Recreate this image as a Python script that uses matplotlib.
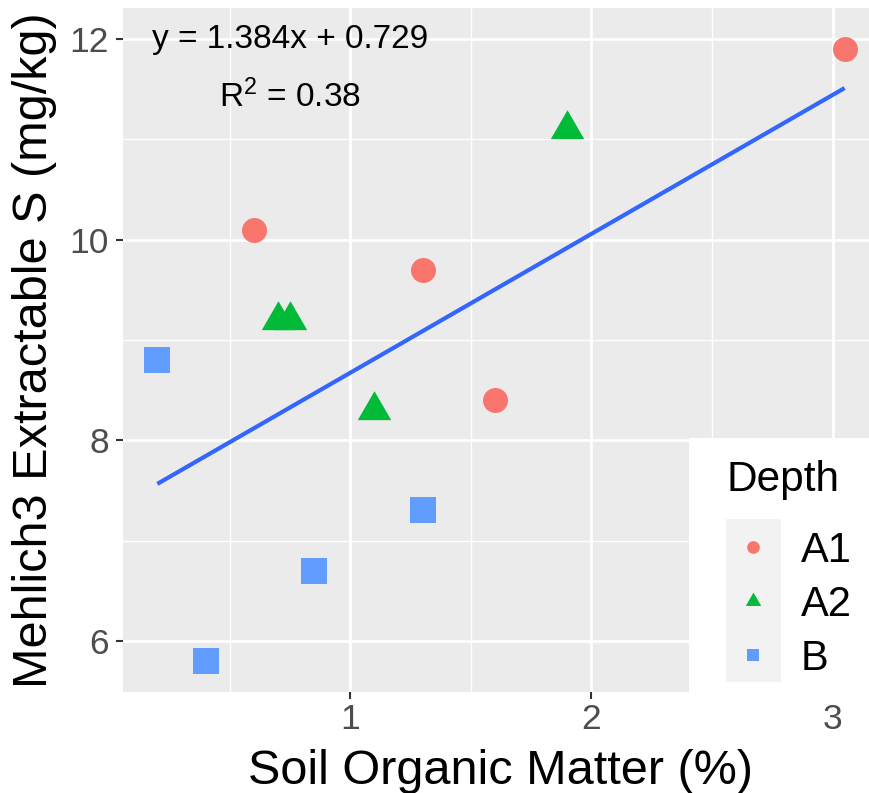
import numpy as np
import matplotlib
matplotlib.use('Agg')
import matplotlib.pyplot as plt
from matplotlib.path import Path
from matplotlib.patches import Rectangle

plt.rcParams['font.family'] = ['Liberation Sans', 'DejaVu Sans']
plt.rcParams['mathtext.fontset'] = 'custom'
plt.rcParams['mathtext.rm'] = 'Liberation Sans'
plt.rcParams['mathtext.it'] = 'Liberation Sans:italic'

# data
depths = ['A1', 'A2', 'B']
som_a1 = [0.6, 1.3, 1.6, 3.05]
s_a1 = [10.1, 9.7, 8.4, 11.9]
som_a2 = [0.7, 0.75, 1.1, 1.9]
s_a2 = [9.2, 9.2, 8.3, 11.1]
som_b = [0.2, 0.4, 0.85, 1.3]
s_b = [8.8, 5.8, 6.7, 7.3]
eq_label = 'y = 1.384x + 0.729'
r2_label = 'R$^2$ = 0.38'

colors = ['#F8766D', '#00BA38', '#619CFF']
# R style filled triangle (pch 17), centred like R does it
tri = Path([(0, 1), (0.866, -0.5), (-0.866, -0.5), (0, 1)],
           [Path.MOVETO, Path.LINETO, Path.LINETO, Path.CLOSEPOLY])
markers = ['o', tri, 's']
sizes = [18, 27.8, 18.7]
key_sizes = [9.1, 12.8, 9.1]

W, H = 870, 793
fig = plt.figure(figsize=(W / 100, H / 100), dpi=100)

def box(x0, y0, x1, y1):
    # pixel box (from top left) -> figure rect
    return [x0 / W, 1 - y1 / H, (x1 - x0) / W, (y1 - y0) / H]

ax = fig.add_axes(box(123, 8, 879, 692))
ax.set_facecolor('#EBEBEB')
for sp in ax.spines.values():
    sp.set_visible(False)

xs = [som_a1, som_a2, som_b]
ys = [s_a1, s_a2, s_b]
for x, y, c, m, ms in zip(xs, ys, colors, markers, sizes):
    ax.plot(x, y, ls='none', marker=m, ms=ms, color=c, mew=0, zorder=3)

# linear fit over all points
allx = np.concatenate(xs)
ally = np.concatenate(ys)
slope, icpt = np.polyfit(allx, ally, 1)
fx = np.array([allx.min(), allx.max()])
ax.plot(fx, slope * fx + icpt, color='#3366FF', lw=3, zorder=4,
        solid_capstyle='butt')

ax.text(0.75, 11.91, eq_label, ha='center', va='baseline', size=24)
ax.text(0.75, 11.32, r2_label, ha='center', va='baseline', size=24)

ax.set_xlim(0.0575, 3.1925)
ax.set_ylim(5.49, 12.31)
ax.set_xticks([1, 2, 3])
ax.set_yticks([6, 8, 10, 12])
ax.set_xticks([0.5, 1.5, 2.5], minor=True)
ax.set_yticks([7, 9, 11], minor=True)
ax.grid(which='major', color='white', lw=2.0)
ax.grid(which='minor', color='white', lw=1.0)
ax.set_axisbelow(True)
ax.tick_params(which='major', length=5, width=1.5, color='#333333',
               labelsize=25.5, labelcolor='#4D4D4D')
ax.tick_params(axis='x', pad=3)
ax.tick_params(axis='y', pad=5)
ax.tick_params(which='minor', length=0)
ax.set_xlabel('Soil Organic Matter (%)', size=35, labelpad=9)
ax.set_ylabel('Mehlich3 Extractable S (mg/kg)', size=35, labelpad=9)

# legend, drawn ggplot style in pixel coordinates
lg = fig.add_axes(box(689, 438, 880, 700))
lg.set_xlim(689, 880)
lg.set_ylim(700, 438)
lg.set_facecolor('white')
lg.set_xticks([])
lg.set_yticks([])
for sp in lg.spines.values():
    sp.set_visible(False)
lg.text(727, 491, 'Depth', size=30.5, va='baseline')
lg.add_patch(Rectangle((726, 519), 55, 163, color='#F2F2F2', lw=0))
rows = [547, 601, 655]
for name, c, m, ms, ry in zip(depths, colors, markers, key_sizes, rows):
    lg.plot([753.5], [ry], ls='none', marker=m, ms=ms, color=c, mew=0)
    lg.text(801, ry, name, size=30, va='center_baseline', ha='left')

fig.savefig('out.png', dpi=100)
